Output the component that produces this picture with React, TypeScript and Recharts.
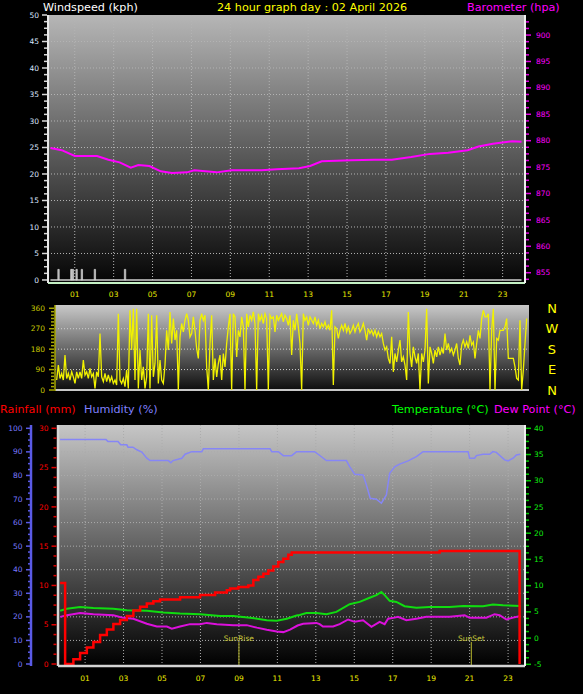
import React from "react";
import {
  Bar,
  CartesianGrid,
  ComposedChart,
  Line,
  LineChart,
  ReferenceLine,
  XAxis,
  YAxis,
} from "recharts";

const FONT = "DejaVu Sans";

// ---- top panel: wind speed + barometer (hours of the day)
const gustHours = [0.17, 0.83, 0.91, 1.1, 1.37, 2.04, 3.59];
const gustValues = [2, 2, 2, 2, 2, 2, 2];
const windAvgHours = [-0.25, 23.97];
const windAvgValues = [0, 0];
const baroHours = [
  -0.25, 0.33, 1.0, 2.15, 2.73, 3.31, 3.88, 4.27, 4.84, 5.42, 6.0, 6.77, 7.15, 8.3, 9.07, 10.6,
  11.38, 12.53, 13.1, 13.7, 14.45, 15.2, 16.4, 17.3, 18.3, 19.26, 20.2, 21.2, 21.76, 22.5, 23.5,
  23.97,
];
const baroValues = [
  878.6, 878.2, 877.1, 877.1, 876.4, 875.9, 874.9, 875.4, 875.2, 874.2, 873.9, 874.0, 874.4, 874.0,
  874.4, 874.4, 874.6, 874.8, 875.2, 876.1, 876.2, 876.3, 876.4, 876.4, 876.9, 877.5, 877.7, 878.2,
  878.9, 879.4, 879.9, 879.8,
];

// ---- middle panel: wind direction, one reading every 5 minutes
const dirStepMinutes = 5;
const dirValues = [
  44, 110, 51, 73, 44, 154, 51, 73, 44, 80, 58, 29, 80, 51, 80, 51, 132, 66, 80, 51, 95, 58, 73, 7,
  80, 58, 249, 58, 37, 73, 37, 66, 37, 58, 29, 44, 22, 336, 44, 29, 51, 15, 88, 7, 351, 176, 358,
  44, 358, 7, 176, 44, 102, 7, 58, 336, 7, 329, 58, 117, 329, 29, 132, 44, 29, 110, 263, 176, 344,
  205, 315, 220, 263, 0, 234, 293, 256, 307, 336, 307, 234, 249, 322, 263, 183, 139, 307, 336, 307,
  329, 102, 0, 205, 329, 44,
  139, 58, 117, 154, 44, 161, 102, 205, 278, 336, 0, 336, 322, 146, 263, 234, 322, 278, 0, 336,
  278, 329, 307, 344, 293, 0, 336, 307, 329, 293, 336, 315, 0, 329, 315, 322, 256, 329, 307, 322,
  336, 300, 329, 315, 285, 329, 154, 307, 263, 336, 278, 205, 0, 336, 307, 322, 285, 322, 307, 293,
  322, 285, 307, 270, 293, 278, 300, 270, 285, 263, 351, 22, 278, 270, 227, 263, 285, 263, 293, 256,
  278, 249, 263, 285, 256, 278, 293, 256, 270, 293, 263, 220, 270, 249, 263, 241, 263,
  234, 256, 234, 249, 205, 176, 190, 139, 117, 234, 80, 161, 124, 176, 220, 124, 146, 110, 44, 344,
  161, 102, 190, 146, 117, 161, 0, 161, 124, 176, 358, 29, 190, 161, 117, 176, 146, 190, 154, 183,
  161, 249, 176, 205, 168, 183, 154, 176, 205, 139, 110, 198, 220, 190, 212, 183, 241, 198, 212, 139,
  205, 263, 227, 315, 351, 322, 322, 336, 0, 263, 358, 0, 227, 220, 263, 263, 263, 278, 315, 139,
  139, 139, 139, 102, 51, 44, 307, 0, 88, 205, 315,
];
const compassLabels: Record<number, string> = { 0: "N", 90: "E", 180: "S", 270: "W", 360: "N" };

// ---- bottom panel: rain, humidity, temperature, dew point
const rainHours = [
  -0.3, -0.04, 0.13, 0.39, 0.74, 1.09, 1.43, 1.78, 2.13, 2.47, 2.82, 3.17, 3.51, 3.86, 4.21, 4.55,
  4.9, 5.94, 6.98, 7.76, 8.37, 8.54, 8.97, 9.49, 9.75, 10.01, 10.27, 10.53, 10.79, 11.05, 11.31,
  11.57, 11.75, 19.44, 23.6,
];
const rainValues = [
  10.3, 0, 0, 0.6, 1.4, 2.1, 2.8, 3.7, 4.4, 5.1, 5.6, 6.1, 6.8, 7.3, 7.7, 8.0, 8.2, 8.5, 8.8, 9.1,
  9.4, 9.6, 9.8, 10.0, 10.7, 11.1, 11.5, 11.9, 12.4, 13.0, 13.4, 13.9, 14.2, 14.4, 0,
];
const humHours = [
  -0.3, 2.09, 2.19, 2.71, 2.85, 3.17, 3.23, 3.49, 3.69, 3.95, 4.21, 4.38, 5.33, 5.46, 5.57, 6.03,
  6.2, 6.55, 7.07, 7.15, 10.62, 10.71, 11.05, 11.31, 11.74, 12.0, 12.94, 13.12, 13.55, 14.59, 14.76,
  15.02, 15.46, 15.63, 15.83, 16.15, 16.41, 16.67, 16.84, 17.1, 17.36, 17.8, 18.23, 18.58, 20.92,
  21.0, 21.26, 21.35, 21.7, 22.04, 22.21, 22.39, 22.82, 23.0, 23.26, 23.43, 23.64,
];
const humValues = [
  95.2, 95.2, 94.4, 94.4, 93.0, 93.0, 92.0, 92.0, 90.9, 89.9, 87.3, 86.3, 86.3, 85.4, 86.3, 87.3,
  89.0, 90.1, 90.1, 91.3, 91.3, 90.1, 90.1, 88.4, 88.4, 90.1, 90.1, 89.0, 86.3, 86.3, 83.7, 80.5,
  80.2, 76.0, 70.3, 69.9, 68.2, 71.7, 80.9, 83.7, 84.8, 86.2, 88.0, 90.1, 90.1, 87.3, 87.3, 88.4,
  89.0, 89.0, 90.1, 89.8, 86.6, 86.2, 87.3, 88.7, 89.0,
];
const tempHours = [
  -0.3, 0.05, 0.74, 1.43, 2.47, 3.17, 4.21, 5.07, 5.94, 6.98, 8.02, 8.71, 9.58, 10.45, 10.97, 11.49,
  12.0, 12.16, 12.51, 13.03, 13.55, 14.07, 14.76, 15.28, 15.8, 16.15, 16.41, 16.58, 16.84, 17.19,
  17.62, 18.23, 18.92, 19.96, 20.66, 21.7, 22.21, 22.74, 23.64,
];
const tempValues = [
  5.2, 5.6, 5.95, 5.76, 5.6, 5.3, 5.2, 4.9, 4.7, 4.56, 4.2, 4.2, 3.9, 3.4, 3.3, 3.7, 4.3, 4.4, 4.8,
  4.8, 4.56, 5.0, 6.46, 6.9, 7.7, 8.2, 8.8, 8.2, 7.1, 6.9, 6.08, 5.8, 5.95, 5.95, 6.14, 6.08, 6.4,
  6.27, 6.14,
];
const dewHours = [
  -0.3, 0.05, 0.74, 1.43, 2.47, 2.99, 3.51, 4.21, 4.73, 5.25, 5.51, 5.94, 6.46, 6.98, 7.33, 7.85,
  8.71, 9.41, 9.93, 10.45, 10.97, 11.31, 11.66, 12.05, 12.34, 13.03, 13.2, 13.37, 13.9, 14.24, 14.68,
  15.02, 15.46, 15.89, 16.32, 16.58, 16.76, 17.1, 17.27, 17.71, 18.23, 18.75, 19.96, 20.74, 21.0,
  21.87, 22.3, 22.56, 22.91, 23.26, 23.64,
];
const dewValues = [
  4.05, 4.37, 4.8, 4.56, 4.37, 3.86, 3.7, 2.74, 2.2, 2.2, 1.8, 2.2, 2.66, 2.66, 2.9, 2.66, 2.47,
  2.47, 2.0, 1.6, 1.27, 1.14, 1.6, 2.4, 2.74, 2.9, 2.66, 2.2, 2.2, 2.66, 3.55, 3.1, 3.4, 2.15, 3.1,
  2.66, 3.7, 3.9, 4.05, 3.4, 3.7, 4.05, 4.05, 4.37, 3.86, 3.9, 4.56, 4.37, 3.55, 3.9, 4.2,
];
const sunRiseHour = 9.0;
const sunSetHour = 21.09;

const hourTicks = [1, 3, 5, 7, 9, 11, 13, 15, 17, 19, 21, 23];

const zip = (xs: number[], ys: number[]) => xs.map((t, i) => ({ t, v: ys[i] }));
const range = (a: number, b: number, s: number) => {
  const out: number[] = [];
  for (let v = a; v <= b + 1e-9; v += s) out.push(Math.round(v * 1000) / 1000);
  return out;
};

const gustData = gustHours.map((t, i) => ({ t, gust: gustValues[i] }));
const windAvgData = zip(windAvgHours, windAvgValues);
const baroData = zip(baroHours, baroValues);
const dirData = dirValues.map((d, i) => ({ t: i * dirStepMinutes, v: d }));
const rainData = zip(rainHours, rainValues);
const humData = zip(humHours, humValues);
const tempData = zip(tempHours, tempValues);
const dewData = zip(dewHours, dewValues);

type YTickOpts = {
  axisX: number;
  side: "left" | "right";
  major: number;
  tickColor: string;
  labelColor: string;
  gap: number;
};

function yTick(o: YTickOpts) {
  return (props: any) => {
    const v = Number(props.payload.value);
    const r = v / o.major;
    const major = Math.abs(r - Math.round(r)) < 1e-6;
    const dir = o.side === "left" ? -1 : 1;
    const len = major ? 5 : 3;
    return (
      <g>
        <line
          x1={o.axisX}
          x2={o.axisX + dir * len}
          y1={props.y}
          y2={props.y}
          stroke={o.tickColor}
          strokeWidth={1.5}
        />
        {major && (
          <text
            x={o.axisX + dir * o.gap}
            y={props.y}
            dy="0.35em"
            textAnchor={o.side === "left" ? "end" : "start"}
            fill={o.labelColor}
            fontSize={7.5}
            fontFamily={FONT}
          >
            {v}
          </text>
        )}
      </g>
    );
  };
}

function xTick(color: string, dy: number) {
  return (props: any) => (
    <text
      x={props.x}
      y={props.y + dy}
      textAnchor="middle"
      fill={color}
      fontSize={7.5}
      fontFamily={FONT}
    >
      {String(props.payload.value).padStart(2, "0")}
    </text>
  );
}

function compassTick(props: any) {
  return (
    <text
      x={552}
      y={props.y}
      dy="0.36em"
      textAnchor="middle"
      fill="#ffff00"
      fontSize={13}
      fontFamily={FONT}
    >
      {compassLabels[Number(props.payload.value)]}
    </text>
  );
}

function SunLabel(props: any) {
  const vb = props.viewBox || {};
  const top = Math.min(vb.y, vb.y + (vb.height || 0));
  return (
    <text
      x={vb.x}
      y={top - 1.5}
      textAnchor="middle"
      fill="#c8c83c"
      fontSize={7.5}
      fontFamily={FONT}
    >
      {props.text}
    </text>
  );
}

function TopChart() {
  return (
    <ComposedChart width={583} height={300} data={gustData} margin={{ top: 15, right: 0, bottom: 0, left: 0 }}>
      <defs>
        <linearGradient id="gTop" x1="0" y1="0" x2="0" y2="1">
          <stop offset="0" stopColor="#b6b6b6" />
          <stop offset="1" stopColor="#050505" />
        </linearGradient>
      </defs>
      <CartesianGrid
        fill="url(#gTop)"
        fillOpacity={1}
        stroke="#b4b4b4"
        strokeDasharray="1 2"
        yAxisId="wind"
        horizontalValues={[5, 10, 15, 20, 25, 30, 35, 40, 45]}
        verticalValues={hourTicks}
      />
      <XAxis
        dataKey="t"
        type="number"
        domain={[-0.375, 24.15]}
        allowDataOverflow
        ticks={hourTicks}
        interval={0}
        height={17}
        tickLine={false}
        tick={xTick("#e8e800", 6)}
        axisLine={{ stroke: "#c4f0c4", strokeWidth: 2 }}
      />
      <YAxis
        yAxisId="wind"
        width={48}
        type="number"
        domain={[-0.57, 50]}
        allowDataOverflow
        ticks={range(0, 50, 1.25)}
        interval={0}
        tickLine={false}
        tick={yTick({ axisX: 47, side: "left", major: 5, tickColor: "#d8d8d8", labelColor: "#dde6ff", gap: 8 })}
        axisLine={{ stroke: "#e8e8e8", strokeWidth: 2 }}
      />
      <YAxis
        yAxisId="baro"
        orientation="right"
        width={58}
        type="number"
        domain={[853.05, 903.8]}
        allowDataOverflow
        ticks={range(853.75, 902.5, 1.25)}
        interval={0}
        tickLine={false}
        tick={yTick({ axisX: 526, side: "right", major: 5, tickColor: "#e000e0", labelColor: "#ff00ff", gap: 10 })}
        axisLine={{ stroke: "#f0f0f0", strokeWidth: 2 }}
      />
      <Bar yAxisId="wind" dataKey="gust" barSize={3} fill="#a8a8a8" stroke="#f0f0f0" strokeWidth={0.6} isAnimationActive={false} />
      <Line yAxisId="wind" data={windAvgData} dataKey="v" stroke="#cfcfcf" strokeWidth={1.5} dot={false} isAnimationActive={false} />
      <Line yAxisId="baro" data={baroData} dataKey="v" stroke="#ff00ff" strokeWidth={2} dot={false} isAnimationActive={false} />
    </ComposedChart>
  );
}

function DirChart() {
  return (
    <LineChart width={583} height={110} data={dirData} margin={{ top: 10, right: 0, bottom: 14, left: 0 }}>
      <defs>
        <linearGradient id="gMid" x1="0" y1="0" x2="0" y2="1">
          <stop offset="0" stopColor="#c8c8c8" />
          <stop offset="1" stopColor="#0c0c0c" />
        </linearGradient>
      </defs>
      <CartesianGrid
        fill="url(#gMid)"
        fillOpacity={1}
        stroke="#d0d0d0"
        strokeDasharray="1 2"
        vertical={false}
        horizontalValues={[90, 180, 270]}
      />
      <XAxis dataKey="t" type="number" domain={[-5, 1417]} allowDataOverflow hide />
      <YAxis
        width={55}
        type="number"
        domain={[-4.4, 374.5]}
        allowDataOverflow
        ticks={range(0, 360, 15)}
        interval={0}
        tickLine={false}
        tick={yTick({ axisX: 54, side: "left", major: 90, tickColor: "#a8a800", labelColor: "#c8c800", gap: 9 })}
        axisLine={{ stroke: "#a8a800", strokeWidth: 1.5 }}
      />
      <YAxis
        yAxisId="compass"
        orientation="right"
        width={54}
        type="number"
        domain={[-4.4, 374.5]}
        allowDataOverflow
        ticks={[0, 90, 180, 270, 360]}
        interval={0}
        tickLine={false}
        axisLine={false}
        tick={compassTick}
      />
      <ReferenceLine y={0} stroke="#c8c8c8" strokeWidth={2} />
      <Line dataKey="v" stroke="#f2f200" strokeWidth={1.3} dot={false} isAnimationActive={false} />
    </LineChart>
  );
}

function BottomChart() {
  return (
    <ComposedChart width={583} height={279} margin={{ top: 10, right: 0, bottom: 0, left: 0 }}>
      <defs>
        <linearGradient id="gBot" x1="0" y1="0" x2="0" y2="1">
          <stop offset="0" stopColor="#c6c6c6" />
          <stop offset="1" stopColor="#000000" />
        </linearGradient>
      </defs>
      <CartesianGrid
        fill="url(#gBot)"
        fillOpacity={1}
        stroke="#acacac"
        strokeDasharray="1 2"
        yAxisId="hum"
        horizontalValues={[10, 20, 30, 40, 50, 60, 70, 80, 90]}
        verticalValues={hourTicks}
      />
      <XAxis
        dataKey="t"
        type="number"
        domain={[-0.41, 23.88]}
        allowDataOverflow
        ticks={hourTicks}
        interval={0}
        height={28}
        tickLine={false}
        tick={xTick("#f0f000", 7)}
        axisLine={{ stroke: "#d4d4d4", strokeWidth: 2.5 }}
      />
      <YAxis
        yAxisId="aRain"
        width={27}
        type="number"
        domain={[-0.25, 30.42]}
        allowDataOverflow
        ticks={range(0, 30, 1.25)}
        interval={0}
        tickLine={false}
        tick={yTick({ axisX: 56.5, side: "left", major: 5, tickColor: "#e00000", labelColor: "#ff0000", gap: 8 })}
        axisLine={{ stroke: "#d8d8d8", strokeWidth: 2.5 }}
      />
      <YAxis
        yAxisId="hum"
        width={31}
        type="number"
        domain={[-0.85, 101.4]}
        allowDataOverflow
        ticks={range(0, 100, 2.5)}
        interval={0}
        tickLine={false}
        tick={yTick({ axisX: 31, side: "left", major: 10, tickColor: "#5a5ae6", labelColor: "#7a7aff", gap: 8.5 })}
        axisLine={{ stroke: "#5a5ae6", strokeWidth: 2.5 }}
      />
      <YAxis
        yAxisId="temp"
        orientation="right"
        width={58}
        type="number"
        domain={[-5.32, 40.63]}
        allowDataOverflow
        ticks={range(-5, 40, 1.25)}
        interval={0}
        tickLine={false}
        tick={yTick({ axisX: 526, side: "right", major: 5, tickColor: "#00c800", labelColor: "#10ee10", gap: 8 })}
        axisLine={{ stroke: "#f0f0f0", strokeWidth: 2 }}
      />
      <ReferenceLine
        yAxisId="temp"
        segment={[{ x: sunRiseHour, y: -5.32 }, { x: sunRiseHour, y: -0.76 }]}
        stroke="#9c9c28"
        strokeWidth={1.2}
        label={<SunLabel text="SunRise" />}
      />
      <ReferenceLine
        yAxisId="temp"
        segment={[{ x: sunSetHour, y: -5.32 }, { x: sunSetHour, y: -0.76 }]}
        stroke="#9c9c28"
        strokeWidth={1.2}
        label={<SunLabel text="SunSet" />}
      />
      <Line yAxisId="hum" data={humData} dataKey="v" stroke="#8686f6" strokeWidth={1.5} dot={false} isAnimationActive={false} />
      <Line yAxisId="temp" data={tempData} dataKey="v" stroke="#10dc10" strokeWidth={2} dot={false} isAnimationActive={false} />
      <Line yAxisId="temp" data={dewData} dataKey="v" stroke="#dc10dc" strokeWidth={2} dot={false} isAnimationActive={false} />
      <Line yAxisId="aRain" data={rainData} dataKey="v" type="stepAfter" stroke="#ff0000" strokeWidth={2.5} dot={false} isAnimationActive={false} />
    </ComposedChart>
  );
}

export default function App() {
  const title = { fontFamily: FONT, fontSize: 11.2 };
  return (
    <div
      style={{
        position: "absolute",
        left: 0,
        top: 0,
        width: 583,
        height: 694,
        background: "#000",
        overflow: "hidden",
      }}
    >
      <div style={{ position: "absolute", left: 0, top: 0 }}>
        <TopChart />
      </div>
      <div style={{ position: "absolute", left: 0, top: 295 }}>
        <DirChart />
      </div>
      <div style={{ position: "absolute", left: 0, top: 415 }}>
        <BottomChart />
      </div>
      <svg
        width={583}
        height={694}
        style={{ position: "absolute", left: 0, top: 0, pointerEvents: "none" }}
      >
        <text x={43} y={11} fill="#ffffff" {...title}>Windspeed (kph)</text>
        <text x={217} y={11} fill="#ffff00" {...title}>24 hour graph day : 02 April 2026</text>
        <text x={467} y={11} fill="#ff00ff" {...title}>Barometer (hpa)</text>
        <text x={0} y={412.5} fill="#ff0000" {...title}>Rainfall (mm)</text>
        <text x={84} y={412.5} fill="#8080ff" {...title}>Humidity (%)</text>
        <text x={392} y={412.5} fill="#00ff00" {...title}>Temperature (°C)</text>
        <text x={494} y={412.5} fill="#ff00ff" {...title}>Dew Point (°C)</text>
      </svg>
    </div>
  );
}
